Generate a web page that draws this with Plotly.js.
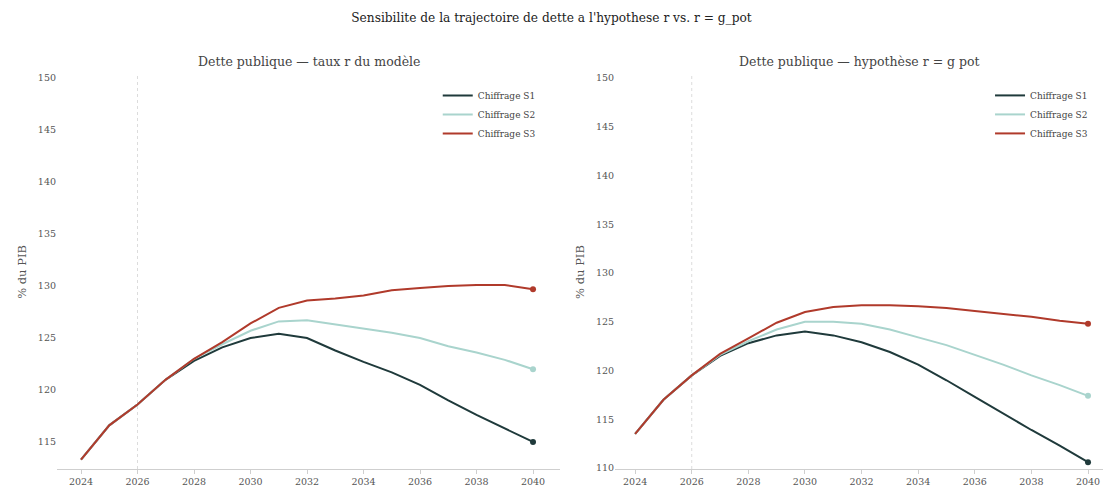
<!DOCTYPE html>
<html>
<head>
<meta charset="utf-8">
<script src="https://cdn.plot.ly/plotly-3.0.1.min.js"></script>
<style>html,body{margin:0;padding:0;background:#fff;}#chart{width:1103px;height:491px;}</style>
</head>
<body>
<div id="chart"></div>
<script>
const years = [2024,2025,2026,2027,2028,2029,2030,2031,2032,2033,2034,2035,2036,2037,2038,2039,2040];
const refYear = 2026;

// Panel 1: taux r du modèle
const modelS1 = [113.3,116.6,118.6,121.0,122.8,124.1,125.0,125.4,125.0,123.8,122.7,121.7,120.5,119.0,117.6,116.3,115.0];
const modelS2 = [113.3,116.6,118.6,121.0,123.0,124.4,125.7,126.6,126.7,126.3,125.9,125.5,125.0,124.2,123.6,122.9,122.0];
const modelS3 = [113.3,116.6,118.6,121.0,123.0,124.6,126.4,127.9,128.6,128.8,129.1,129.6,129.8,130.0,130.1,130.1,129.7];

// Panel 2: hypothèse r = g pot
const gpotS1 = [113.5,117.0,119.5,121.5,122.8,123.6,124.0,123.6,122.9,121.9,120.6,119.0,117.3,115.6,113.9,112.3,110.6];
const gpotS2 = [113.5,117.0,119.5,121.6,123.0,124.2,125.0,125.0,124.8,124.2,123.4,122.6,121.6,120.6,119.5,118.5,117.4];
const gpotS3 = [113.5,117.0,119.5,121.7,123.3,124.9,126.0,126.5,126.7,126.7,126.6,126.4,126.1,125.8,125.5,125.1,124.8];

const seriesNames = ['Chiffrage S1','Chiffrage S2','Chiffrage S3'];
const colors = ['#1f3a3b','#a9d4cd','#b03a2b'];
const mainTitle = "Sensibilite de la trajectoire de dette a l'hypothese r vs. r = g_pot";
const panelTitles = ['Dette publique — taux r du modèle','Dette publique — hypothèse r = g pot'];
const yTitle = '% du PIB';
const tickYears = [2024,2026,2028,2030,2032,2034,2036,2038,2040];

const FONT = 'DejaVu Serif, Liberation Serif, serif';
const traces = [];
function addPanel(sets, xa, ya, leg) {
  sets.forEach((vals, i) => {
    traces.push({
      x: years, y: vals, xaxis: xa, yaxis: ya, type: 'scatter', mode: 'lines',
      name: seriesNames[i], legend: leg,
      line: {color: colors[i], width: 2}
    });
    traces.push({
      x: [years[years.length-1]], y: [vals[vals.length-1]], xaxis: xa, yaxis: ya,
      type: 'scatter', mode: 'markers', showlegend: false, hoverinfo: 'skip',
      marker: {color: colors[i], size: 6}
    });
  });
}
addPanel([modelS1, modelS2, modelS3], 'x', 'y', 'legend');
addPanel([gpotS1, gpotS2, gpotS3], 'x2', 'y2', 'legend2');

const xCommon = {
  tickvals: tickYears, ticktext: tickYears.map(String),
  showgrid: false, zeroline: false, showline: true, linecolor: '#cfcfcf', linewidth: 1,
  ticks: 'outside', ticklen: 4, tickcolor: '#cfcfcf',
  tickfont: {family: FONT, size: 9.5, color: '#555'}
};
const yCommon = {
  tickvals: [110,115,120,125,130,135,140,145,150],
  showgrid: false, zeroline: false, showline: false, ticks: '',
  tickfont: {family: FONT, size: 9.5, color: '#555'},
  title: {text: yTitle, font: {family: FONT, size: 11.5, color: '#555'}, standoff: 8}
};

const layout = {
  width: 1103, height: 491,
  paper_bgcolor: '#ffffff', plot_bgcolor: '#ffffff',
  margin: {l: 57, r: 0, t: 75, b: 22},
  font: {family: FONT, color: '#333'},
  title: {text: mainTitle, x: 0.5, xanchor: 'center', y: 0.963, yanchor: 'middle',
          font: {family: FONT, size: 12.2, color: '#222'}},
  xaxis: Object.assign({}, xCommon, {domain: [0, 0.481], range: [2023.15, 2040.96], anchor: 'y'}),
  yaxis: Object.assign({}, yCommon, {domain: [0, 1], range: [112.4, 150.3], anchor: 'x'}),
  xaxis2: Object.assign({}, xCommon, {domain: [0.5335, 1], range: [2023.29, 2040.53], anchor: 'y2'}),
  yaxis2: Object.assign({}, yCommon, {domain: [0, 1], range: [109.9, 150.3], anchor: 'x2'}),
  legend: {x: 0.364, y: 0.985, xanchor: 'left', yanchor: 'top', bgcolor: 'rgba(255,255,255,0)',
           font: {family: FONT, size: 9, color: '#444'}, tracegroupgap: 0},
  legend2: {x: 0.892, y: 0.985, xanchor: 'left', yanchor: 'top', bgcolor: 'rgba(255,255,255,0)',
            font: {family: FONT, size: 9, color: '#444'}, tracegroupgap: 0},
  shapes: [
    {type: 'line', xref: 'x', yref: 'y domain', x0: refYear, x1: refYear, y0: 0, y1: 1,
     line: {color: '#dcdcdc', width: 1, dash: 'dot'}, layer: 'below'},
    {type: 'line', xref: 'x2', yref: 'y2 domain', x0: refYear, x1: refYear, y0: 0, y1: 1,
     line: {color: '#dcdcdc', width: 1, dash: 'dot'}, layer: 'below'}
  ],
  annotations: [
    {text: panelTitles[0], xref: 'x domain', yref: 'paper', x: 0.5, y: 1.033, xanchor: 'center', yanchor: 'middle',
     showarrow: false, font: {family: FONT, size: 12.5, color: '#444'}},
    {text: panelTitles[1], xref: 'x2 domain', yref: 'paper', x: 0.5, y: 1.033, xanchor: 'center', yanchor: 'middle',
     showarrow: false, font: {family: FONT, size: 12.5, color: '#444'}}
  ]
};

Plotly.newPlot('chart', traces, layout, {displayModeBar: false, responsive: false});
</script>
</body>
</html>
